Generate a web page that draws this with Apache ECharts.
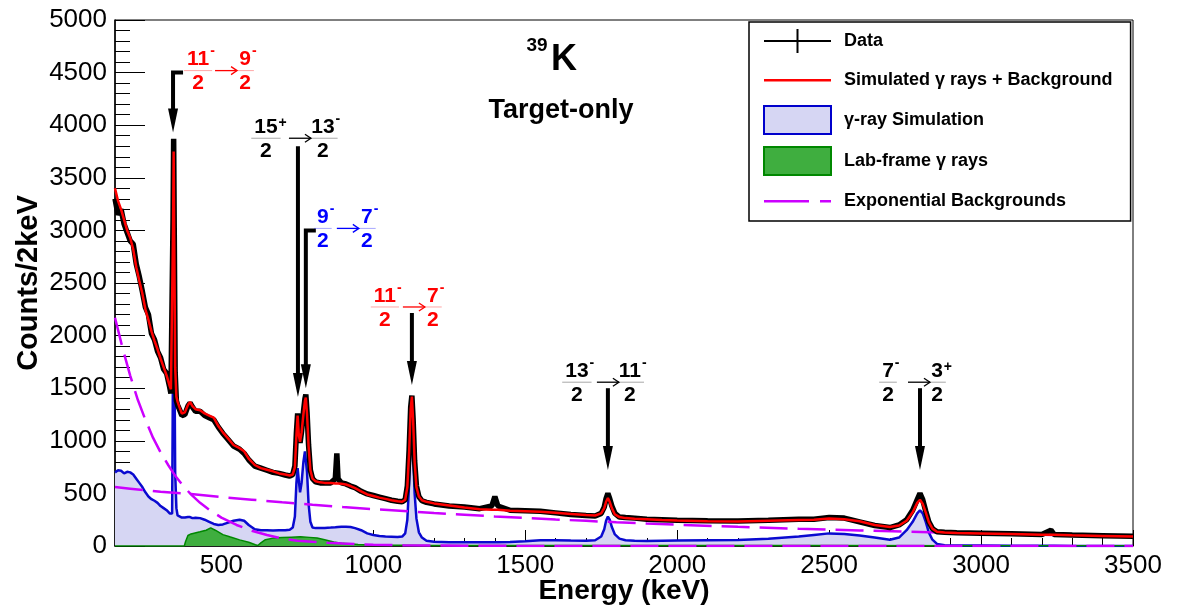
<!DOCTYPE html>
<html>
<head>
<meta charset="utf-8">
<script src="https://cdn.jsdelivr.net/npm/echarts@6/dist/echarts.min.js"></script>
<style>
  html, body { margin: 0; padding: 0; background: #fff; }
  #chart { width: 1177px; height: 607px; }
</style>
</head>
<body>
<div id="chart"></div>
<script>
// energies (keV) shared by data, fit and gamma-ray simulation
const energies = [
  150, 160, 170, 180, 190, 200, 210, 220, 230, 240,
  250, 260, 270, 280, 290, 300, 310, 320, 330, 334,
  338, 341, 343, 345, 348, 352, 356, 362, 370, 380,
  390, 397, 405, 415, 430, 445, 460, 475, 490, 505,
  520, 540, 560, 575, 590, 610, 630, 650, 670, 690,
  710, 725, 735, 742, 747, 751, 755, 759, 764, 770,
  775, 778, 782, 787, 793, 800, 810, 825, 840, 860,
  875, 880, 884, 895, 910, 925, 940, 960, 980, 1000,
  1020, 1040, 1060, 1080, 1095, 1105, 1112, 1118, 1123, 1127,
  1131, 1136, 1142, 1150, 1160, 1175, 1200, 1250, 1300, 1350,
  1390, 1400, 1410, 1450, 1500, 1550, 1600, 1650, 1700, 1730,
  1750, 1760, 1766, 1772, 1778, 1785, 1795, 1810, 1830, 1860,
  1900, 1950, 2000, 2100, 2200, 2300, 2400, 2450, 2500, 2550,
  2600, 2650, 2700, 2730, 2755, 2775, 2790, 2799, 2808, 2818,
  2828, 2840, 2855, 2880, 2920, 3000, 3100, 3200, 3230, 3240,
  3300, 3400, 3500
];
// measured counts
const dataCounts = [
  3300, 3150, 3200, 3060, 2980, 2900, 2870, 2680, 2560, 2420,
  2270, 2200, 2020, 1960, 1850, 1790, 1680, 1640, 1510, 1450,
  1440, 3100, 3870, 3000, 1650, 1380, 1340, 1300, 1240, 1250,
  1330, 1360, 1320, 1280, 1280, 1240, 1220, 1200, 1130, 1070,
  1020, 950, 920, 880, 820, 760, 740, 720, 700, 690,
  675, 665, 680, 760, 1080, 1260, 1060, 980, 1090, 1270,
  1400, 1440, 1270, 960, 720, 640, 610, 600, 600, 600,
  640, 880, 640, 600, 590, 570, 555, 520, 495, 480,
  465, 450, 435, 425, 420, 440, 570, 920, 1320, 1430,
  1210, 810, 570, 470, 430, 415, 400, 380, 370, 355,
  380, 470, 380, 340, 335, 330, 315, 300, 290, 285,
  310, 370, 450, 500, 450, 380, 310, 275, 270, 265,
  255, 250, 245, 240, 238, 245, 255, 255, 270, 265,
  230, 195, 175, 200, 250, 340, 440, 500, 440, 330,
  230, 165, 135, 130, 126, 122, 116, 110, 150, 110,
  104, 98, 92
];
// simulated gamma rays + background
const fitCounts = [
  3400, 3280, 3200, 3100, 3000, 2930, 2820, 2650, 2520, 2400,
  2250, 2150, 2040, 1950, 1870, 1780, 1700, 1620, 1520, 1490,
  1480, 3000, 3750, 2900, 1700, 1420, 1370, 1320, 1260, 1270,
  1340, 1370, 1330, 1300, 1290, 1260, 1240, 1220, 1140, 1080,
  1030, 960, 930, 900, 830, 770, 740, 725, 710, 690,
  680, 670, 680, 750, 1050, 1240, 1050, 990, 1080, 1250,
  1380, 1410, 1250, 950, 720, 640, 615, 605, 600, 598,
  595, 595, 595, 592, 585, 570, 550, 520, 490, 475,
  460, 448, 435, 425, 420, 440, 560, 900, 1300, 1420,
  1200, 800, 560, 470, 435, 420, 405, 385, 365, 350,
  345, 345, 345, 335, 330, 325, 315, 305, 295, 290,
  310, 360, 420, 455, 420, 360, 300, 275, 265, 260,
  255, 248, 242, 236, 232, 240, 248, 250, 262, 255,
  235, 200, 180, 195, 240, 320, 410, 440, 400, 320,
  230, 165, 135, 128, 124, 120, 114, 108, 106, 106,
  102, 96, 90
];
// gamma-ray simulation
const gammaSim = [
  700, 720, 715, 690, 705, 700, 680, 640, 600, 560,
  510, 470, 445, 430, 410, 380, 360, 340, 310, 300,
  310, 1800, 2400, 2100, 700, 360, 290, 275, 270, 270,
  275, 275, 265, 268, 265, 250, 230, 210, 200, 205,
  220, 240, 250, 240, 200, 160, 150, 150, 148, 150,
  150, 155, 175, 280, 600, 740, 620, 510, 600, 800,
  900, 912, 700, 400, 230, 175, 170, 170, 172, 175,
  178, 180, 180, 182, 182, 180, 170, 150, 120, 105,
  95, 90, 88, 86, 90, 120, 250, 600, 1000, 1120,
  900, 500, 260, 130, 80, 50, 40, 35, 35, 35,
  35, 35, 35, 38, 45, 55, 55, 52, 50, 55,
  90, 160, 240, 280, 250, 180, 110, 70, 55, 50,
  48, 50, 52, 55, 58, 68, 90, 105, 120, 115,
  100, 80, 60, 80, 150, 230, 310, 340, 310, 230,
  130, 60, 20, 8, 5, 4, 3, 2, 2, 2,
  1, 1, 1
];
// lab-frame gamma rays
const labE = [150, 378, 382, 390, 400, 430, 450, 465, 480, 505,
  530, 560, 590, 612, 620, 630, 645, 670, 700, 730,
  760, 790, 815, 840, 870, 900, 950, 1000, 1100, 1200,
  1500, 2000, 2500, 3000, 3500];
const labCounts = [0, 0, 40, 100, 115, 135, 150, 172, 150, 108,
  85, 58, 35, 12, 5, 30, 60, 75, 80, 84,
  88, 82, 76, 60, 38, 25, 15, 10, 8, 5,
  5, 5, 5, 3, 2];
// exponential backgrounds
const expSteepE = [150, 175, 200, 225, 250, 275, 300, 325, 350, 375,
  400, 430, 460, 500, 550, 600, 650, 700, 750, 800,
  850, 900, 1000, 1100, 1200, 1300, 1500, 2000, 3500];
const expSteep = [2170, 1880, 1620, 1390, 1200, 1030, 890, 770, 660, 570,
  490, 410, 345, 270, 200, 145, 105, 72, 50, 40,
  31, 23, 12, 7, 4, 2, 1, 0, 0];
const expFlatE = [150, 200, 300, 400, 500, 600, 700, 800, 900, 1000,
  1100, 1200, 1300, 1400, 1500, 1600, 1700, 1800, 1900, 2000,
  2200, 2400, 2600, 2800, 2900, 3000, 3200, 3400, 3500];
const expFlat = [560, 545, 515, 495, 465, 440, 415, 392, 370, 350,
  332, 313, 297, 281, 266, 252, 239, 226, 214, 203,
  182, 164, 148, 133, 126, 120, 108, 96, 90];

// tick values
const xMajorTicks = [500, 1000, 1500, 2000, 2500, 3000, 3500];
const xMinorTicks = [200, 300, 400, 500, 600, 700, 800, 900, 1000, 1100, 1200, 1300,
  1400, 1500, 1600, 1700, 1800, 1900, 2000, 2100, 2200, 2300, 2400, 2500,
  2600, 2700, 2800, 2900, 3000, 3100, 3200, 3300, 3400, 3500];

// transitions: arrow energy, arrow top / tip counts, spins
const arrowE = [341, 752, 778, 1127, 1772, 2799];
const arrowTop = [4500, 3800, 3000, 2215, 1500, 1500];
const arrowTip = [3930, 1416, 1500, 1530, 722, 722];
const spinFrom = [['11', '-'], ['15', '+'], ['9', '-'], ['11', '-'], ['13', '-'], ['7', '-']];
const spinTo = [['9', '-'], ['13', '-'], ['7', '-'], ['7', '-'], ['11', '-'], ['3', '+']];

const FONT = '"Liberation Sans", Arial, Helvetica, sans-serif';
const zip = (xs, ys) => xs.map((x, i) => [x, ys[i]]);
const plain = (v) => String(v);

const chart = echarts.init(document.getElementById('chart'));

chart.setOption({
  animation: false,
  backgroundColor: '#fff',
  grid: {
    left: 115, right: 44, top: 20, bottom: 61,
    show: true, borderColor: '#000', borderWidth: 1,
    containLabel: false, outerBoundsMode: 'none'
  },
  legend: {
    left: 749, top: 22,
    orient: 'vertical',
    padding: [5, 18, 6, 14],
    itemGap: 11, itemWidth: 67, itemHeight: 28,
    backgroundColor: '#fff', borderColor: '#000', borderWidth: 1.5, borderRadius: 0,
    selectedMode: false,
    textStyle: { fontSize: 18, fontWeight: 'bold', color: '#000', fontFamily: FONT, padding: [0, 0, 0, 8] },
    data: [
      { name: 'Data', icon: 'path://M0,0 M67,28 M0,13 h67 v2 h-67 z M32.5,2 h2 v24 h-2 z',
        itemStyle: { color: '#000', borderWidth: 0 } },
      { name: 'Simulated γ rays + Background', icon: 'path://M0,0 M67,28 M0,13 h67 v2.5 h-67 z',
        itemStyle: { color: '#ff0000', borderWidth: 0 } },
      { name: 'γ-ray Simulation', icon: 'rect',
        itemStyle: { color: '#d6d6f3', borderColor: '#0000cc', borderWidth: 2 } },
      { name: 'Lab-frame γ rays', icon: 'rect',
        itemStyle: { color: '#3fae3f', borderColor: '#008800', borderWidth: 2 } },
      { name: 'Exponential Backgrounds', icon: 'path://M0,0 M67,28 M0,13 h45 v2.5 h-45 z M56,13 h11 v2.5 h-11 z',
        itemStyle: { color: '#cc00ff', borderWidth: 0 } }
    ]
  },
  xAxis: [
    {
      // minor ticks
      type: 'value', min: 150, max: 3500,
      axisLine: { show: true, lineStyle: { color: '#000', width: 1.5 } },
      axisTick: { show: true, inside: true, length: 8, customValues: xMinorTicks, lineStyle: { color: '#000', width: 1 } },
      axisLabel: { show: false },
      splitLine: { show: false }
    },
    {
      // major ticks and labels
      type: 'value', min: 150, max: 3500, position: 'bottom',
      axisLine: { show: false },
      axisTick: { show: true, inside: true, length: 16, customValues: xMajorTicks, lineStyle: { color: '#000', width: 1 } },
      axisLabel: { show: true, customValues: xMajorTicks, formatter: plain, margin: 7, fontSize: 26, color: '#000', fontFamily: FONT },
      splitLine: { show: false },
      name: 'Energy (keV)', nameLocation: 'middle', nameGap: 31, nameMoveOverlap: false,
      nameTextStyle: { fontSize: 28, fontWeight: 'bold', color: '#000', fontFamily: FONT }
    }
  ],
  yAxis: {
    type: 'value', min: 0, max: 5000, interval: 500,
    axisLine: { show: true, lineStyle: { color: '#000', width: 1.5 } },
    axisTick: { show: true, inside: true, length: 30, lineStyle: { color: '#000', width: 1 } },
    minorTick: { show: true, splitNumber: 5, length: 15, lineStyle: { color: '#000', width: 1 } },
    axisLabel: { margin: 8, formatter: plain, fontSize: 26, color: '#000', fontFamily: FONT },
    splitLine: { show: false },
    name: 'Counts/2keV', nameLocation: 'middle', nameGap: 72, nameMoveOverlap: false,
    nameTextStyle: { fontSize: 29, fontWeight: 'bold', color: '#000', fontFamily: FONT }
  },
  series: [
    {
      name: 'γ-ray Simulation', type: 'line', data: zip(energies, gammaSim),
      symbol: 'none', z: 2,
      lineStyle: { color: '#0a0ad0', width: 2.5 },
      itemStyle: { color: '#0a0ad0' },
      areaStyle: { color: '#d6d6f3', opacity: 1 }
    },
    {
      name: 'Lab-frame γ rays', type: 'line', data: zip(labE, labCounts),
      symbol: 'none', z: 3,
      lineStyle: { color: '#008800', width: 1.5 },
      itemStyle: { color: '#008800' },
      areaStyle: { color: '#3fae3f', opacity: 1 }
    },
    {
      name: 'Exponential Backgrounds', type: 'line', data: zip(expSteepE, expSteep),
      symbol: 'none', z: 4,
      lineStyle: { color: '#cc00ff', width: 2.5, type: [28, 10] },
      itemStyle: { color: '#cc00ff' }
    },
    {
      name: 'Exponential Backgrounds', type: 'line', data: zip(expFlatE, expFlat),
      symbol: 'none', z: 4,
      lineStyle: { color: '#cc00ff', width: 2.5, type: [28, 10] },
      itemStyle: { color: '#cc00ff' }
    },
    {
      name: 'Data', type: 'line', data: zip(energies, dataCounts),
      symbol: 'none', z: 5,
      lineStyle: { color: '#000', width: 5.5 },
      itemStyle: { color: '#000' }
    },
    {
      name: 'Simulated γ rays + Background', type: 'line', data: zip(energies, fitCounts),
      symbol: 'none', z: 6,
      lineStyle: { color: '#ff0000', width: 2.5 },
      itemStyle: { color: '#ff0000' }
    }
  ]
});

// ---- annotations ----
const labelColors = ['#ff0000', '#000000', '#0000ff', '#ff0000', '#000000', '#000000'];
const hooks = [true, false, true, false, false, false];
const leftDx = [25, -32, 17, -27, -31, -32];
const midDx = [53, 2, 42, 2, 0, -1];
const rightDx = [72, 25, 61, 21, 22, 17];
const barDy = [-2, -8, -2, -6, -6, -6];

const measure = document.createElement('canvas').getContext('2d');
function textWidth(t, size) {
  measure.font = 'bold ' + size + 'px ' + FONT;
  return measure.measureText(t).width;
}
function txt(text, x, y, size, color, align) {
  return {
    type: 'text', silent: true, z: 100,
    style: { text: text, x: x, y: y, fill: color, fontSize: size, fontWeight: 'bold',
      fontFamily: FONT, align: align || 'center', verticalAlign: 'middle' }
  };
}
function fraction(els, cx, barY, num, sign, color) {
  const w = textWidth(num, 21);
  els.push(txt(num, cx, barY - 11, 21, color));
  els.push(txt('2', cx, barY + 13, 21, color));
  els.push({ type: 'line', silent: true, z: 100,
    shape: { x1: cx - w / 2 - 3, y1: barY, x2: cx + w / 2 + 3, y2: barY },
    style: { stroke: color, opacity: 0.35, lineWidth: 1 } });
  els.push(txt(sign, cx + w / 2 + 1, sign === '+' ? barY - 15 : barY - 19, 14, color, 'left'));
}
function smallArrow(els, cx, y, color) {
  els.push({ type: 'polyline', silent: true, z: 100,
    shape: { points: [[cx - 11, y], [cx + 11, y]] }, style: { stroke: color, lineWidth: 1.3, fill: null } });
  els.push({ type: 'polyline', silent: true, z: 100,
    shape: { points: [[cx + 5, y - 4], [cx + 11, y], [cx + 5, y + 4]] }, style: { stroke: color, lineWidth: 1.3, fill: null } });
}

const els = [];
arrowE.forEach((e, i) => {
  const top = chart.convertToPixel({ gridIndex: 0 }, [e, arrowTop[i]]);
  const tip = chart.convertToPixel({ gridIndex: 0 }, [e, arrowTip[i]]);
  const x = top[0], yTop = top[1], yTip = tip[1];
  const headLen = 24, headHalf = 5;
  const pts = hooks[i]
    ? [[x + 10, yTop], [x, yTop], [x, yTip - headLen + 2]]
    : [[x, yTop], [x, yTip - headLen + 2]];
  els.push({ type: 'polyline', silent: true, z: 100, shape: { points: pts },
    style: { stroke: '#000', lineWidth: 4, fill: null, lineJoin: 'miter' } });
  els.push({ type: 'polygon', silent: true, z: 100,
    shape: { points: [[x - headHalf, yTip - headLen], [x + headHalf, yTip - headLen], [x, yTip]] },
    style: { fill: '#000' } });

  const c = labelColors[i];
  const barY = yTop + barDy[i];
  fraction(els, x + leftDx[i], barY, spinFrom[i][0], spinFrom[i][1], c);
  smallArrow(els, x + midDx[i], barY, c);
  fraction(els, x + rightDx[i], barY, spinTo[i][0], spinTo[i][1], c);
});

// nucleus and run labels
els.push(txt('39', 537, 46, 19, '#000'));
els.push(txt('K', 564, 60, 36, '#000'));
els.push(txt('Target-only', 561, 111, 27, '#000'));

chart.setOption({ graphic: els });
</script>
</body>
</html>
